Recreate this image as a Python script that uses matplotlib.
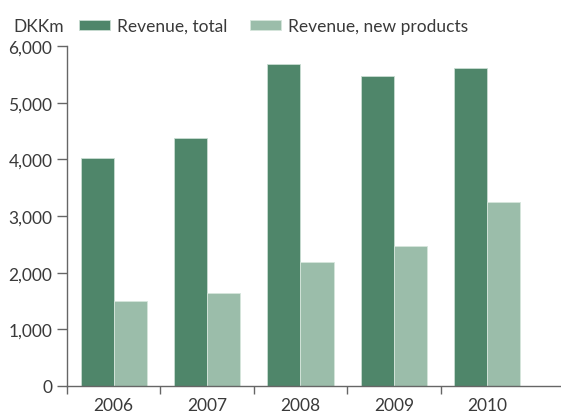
import numpy as np
import matplotlib
matplotlib.use("Agg")
import matplotlib.pyplot as plt

years = ["2006", "2007", "2008", "2009", "2010"]
revenue_total = [4020, 4380, 5680, 5465, 5605]
revenue_new = [1495, 1640, 2185, 2470, 3250]

dark = "#4f866a"
light = "#9bbdaa"
grey = "#3a3a3a"

plt.rcParams["font.family"] = ["Lato", "DejaVu Sans"]
plt.rcParams["font.size"] = 12.5
plt.rcParams["text.color"] = grey

fig = plt.figure(figsize=(5.61, 4.14), dpi=100)
ax = fig.add_axes([67/561, 27/414, 494/561, 340/414])

x = np.arange(len(years))
w = 0.355
b1 = ax.bar(x - w/2, revenue_total, w, color=dark, edgecolor="#c9ddd2", linewidth=0.6, label="Revenue, total")
b2 = ax.bar(x + w/2, revenue_new, w, color=light, edgecolor="#d6e6dc", linewidth=0.6, label="Revenue, new products")

ax.set_ylim(0, 6000)
ax.set_xlim(-0.5, 4.79)
ax.set_yticks(range(0, 6001, 1000))
ax.set_yticklabels([f"{v:,}" for v in range(0, 6001, 1000)], color=grey)
ax.set_xticks(np.arange(-0.5, 4.5, 1.0))
ax.set_xticklabels([])
ax.set_xticks(x, minor=True)
ax.set_xticklabels(years, minor=True, color=grey)
ax.tick_params(axis="x", which="major", length=6, width=1, color="#666666", direction="out")
ax.tick_params(axis="x", which="minor", length=0, pad=8)
ax.tick_params(axis="y", length=7.5, width=1, color="#666666", pad=3)

for s in ["top", "right"]:
    ax.spines[s].set_visible(False)
for s in ["left", "bottom"]:
    ax.spines[s].set_color("#666666")
    ax.spines[s].set_linewidth(1)

fig.text(13/561, 1 - 27/414, "DKKm", va="center", ha="left", color=grey)
fig.legend(handles=[b1, b2], loc="center left", bbox_to_anchor=(79/561, 1 - 27/414),
           ncol=2, frameon=False, handlelength=1.8, handleheight=0.5,
           handletextpad=0.4, columnspacing=1.3, borderaxespad=0, borderpad=0)

fig.savefig("out.png", dpi=100)
